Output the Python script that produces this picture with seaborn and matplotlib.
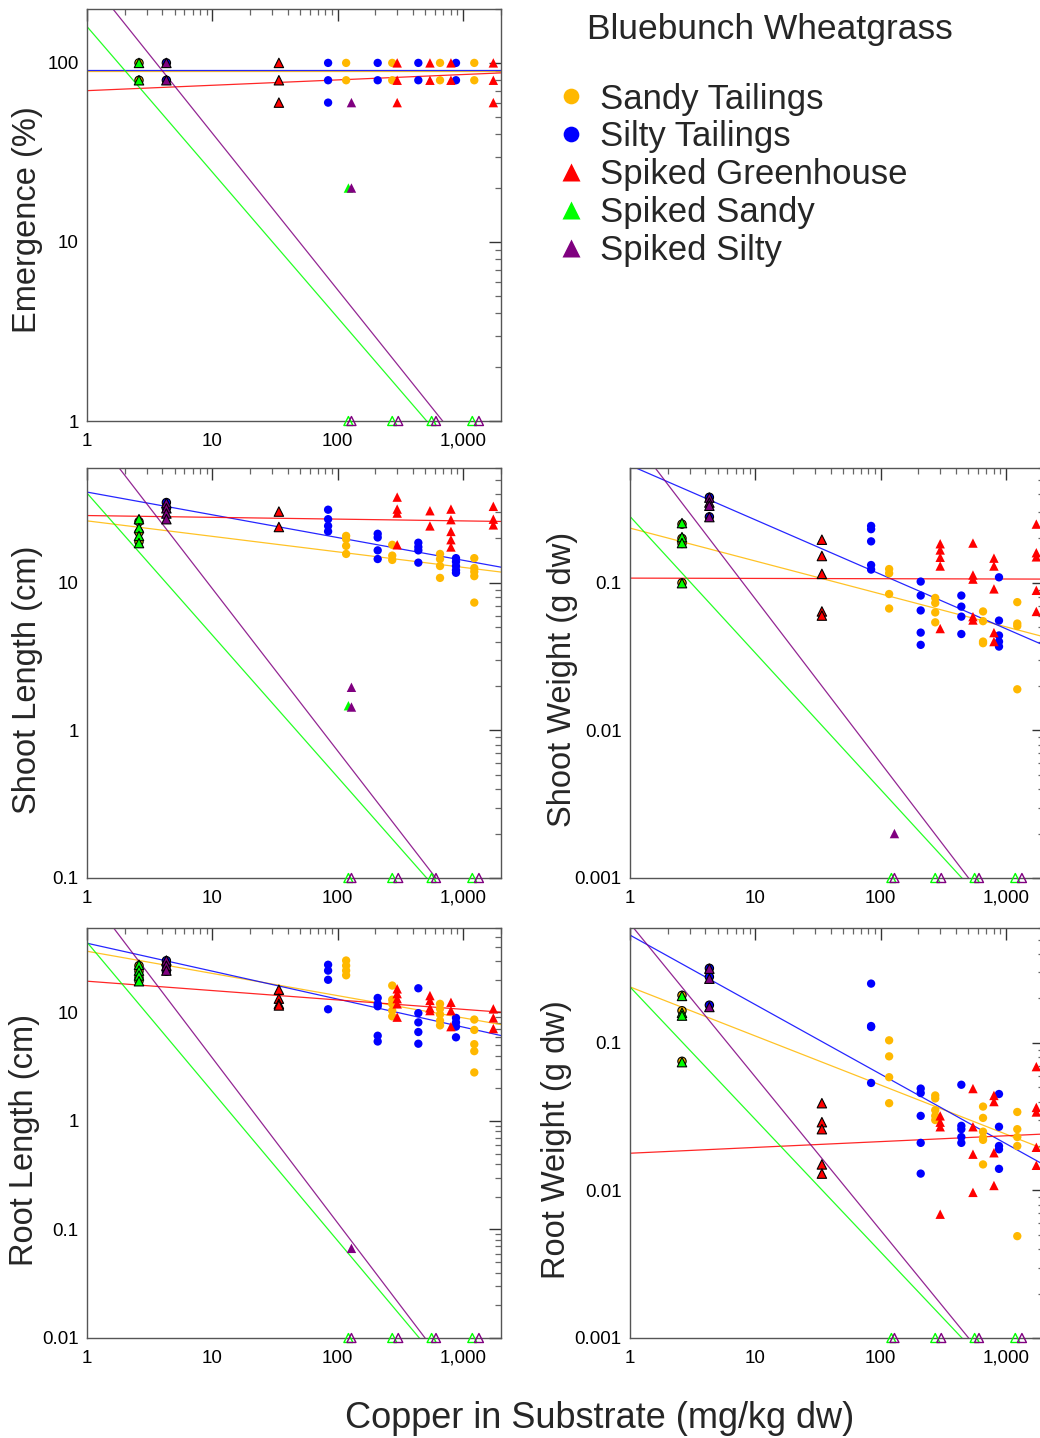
import numpy as np
import pandas as pd
import matplotlib
matplotlib.use("Agg")
import matplotlib.pyplot as plt
from matplotlib.lines import Line2D
from matplotlib.ticker import LogLocator, FixedLocator, FixedFormatter, NullFormatter
import seaborn as sns

sns.set_style("white")
plt.rcParams["font.family"] = ["Liberation Sans", "DejaVu Sans"]

# ---------------- data ----------------
SERIES = ["Sandy Tailings", "Silty Tailings", "Spiked Greenhouse", "Spiked Sandy", "Spiked Silty"]
COLORS = ["#FFB800", "#0000FF", "#FF0000", "#00FF00", "#800080"]
MARKERS = ["o", "o", "^", "^", "^"]
TITLE = "Bluebunch Wheatgrass"
XLABEL = "Copper in Substrate (mg/kg dw)"

# copper concentrations (mg/kg dw); first entry of each is the control
SANDY_X = [2.6, 117, 273, 657, 1233]
SILTY_X = [4.3, 84, 209, 441, 881]
GREENHOUSE_X = [34, 299, 546, 803, 1750]
SPIKED_SANDY_X = [2.6, 122, 273, 563, 1189]
SPIKED_SILTY_X = [4.3, 129, 305, 610, 1343]

# Emergence (%) -- replicate values per concentration (0 = none emerged)
EMERG_SANDY = [[100, 80], [100, 80], [100, 80], [100, 80], [100, 80]]
EMERG_SILTY = [[100, 80], [100, 80, 60], [100, 80], [100, 80], [100, 80]]
EMERG_GREENHOUSE = [[100, 80, 60], [100, 80, 60], [100, 80], [100, 80], [100, 80, 60]]
EMERG_SPIKED_SANDY = [[100, 80], [20, 0], [0], [0], [0]]
EMERG_SPIKED_SILTY = [[100, 80], [60, 20, 0], [0], [0], [0]]

# Shoot length (cm)
SLEN_SANDY = [[26, 22, 19], [20.8, 19.8, 17.8, 15.7], [18.1, 15.3, 14.3],
              [15.7, 14.5, 13.0, 10.8], [14.7, 12.6, 11.9, 11.1, 7.35]]
SLEN_SILTY = [[35, 32], [31.3, 27, 24.3, 22.3], [21.5, 20.3, 16.6, 14.5],
              [18.7, 17.5, 16.6, 13.7], [14.7, 13.9, 13.0, 12.2, 11.7]]
SLEN_GREENHOUSE = [[30.4, 23.9], [38.1, 31.6, 29.7, 18.1], [30.8, 24.3],
                   [31.6, 26.8, 22.3, 19.6, 17.5], [33, 27, 24.7]]
SLEN_SPIKED_SANDY = [[27, 23.5, 20.8, 18.6], [1.47, 0], [0], [0], [0]]
SLEN_SPIKED_SILTY = [[34.7, 32, 29.5, 27], [1.96, 1.44, 0], [0], [0], [0]]

# Shoot weight (g dw)
SWT_SANDY = [[0.25, 0.20, 0.185, 0.10], [0.124, 0.116, 0.084, 0.067], [0.079, 0.073, 0.063, 0.054],
             [0.064, 0.055, 0.040, 0.039], [0.074, 0.053, 0.051, 0.019]]
SWT_SILTY = [[0.38, 0.28], [0.243, 0.231, 0.191, 0.132, 0.123], [0.102, 0.082, 0.065, 0.046, 0.038],
             [0.082, 0.069, 0.059, 0.045], [0.109, 0.0555, 0.044, 0.040, 0.037]]
SWT_GREENHOUSE = [[0.196, 0.152, 0.115, 0.064, 0.060], [0.184, 0.167, 0.149, 0.130, 0.049],
                  [0.186, 0.113, 0.106, 0.059, 0.056], [0.147, 0.130, 0.091, 0.046, 0.040],
                  [0.25, 0.16, 0.15, 0.089, 0.064]]
SWT_SPIKED_SANDY = [[0.254, 0.204, 0.186, 0.0995], [0], [0], [0], [0]]
SWT_SPIKED_SILTY = [[0.378, 0.35, 0.333, 0.279], [0.002, 0], [0], [0], [0]]

# Root length (cm)
RLEN_SANDY = [[27, 24, 21, 19.5], [30.1, 27, 24.3, 22], [17.7, 13.1, 12.0, 10.4, 9.2],
              [12.0, 10.8, 9.6, 8.4, 7.6], [8.6, 6.9, 5.1, 4.4, 2.8]]
RLEN_SILTY = [[30, 27, 24], [27.5, 24.3, 20.0, 10.7], [13.6, 12.0, 11.4, 6.1, 5.4],
              [16.7, 9.85, 8.1, 6.6, 5.15], [8.9, 8.1, 7.4, 5.9]]
RLEN_GREENHOUSE = [[16.2, 13.4, 12.0, 11.6], [16.5, 14.9, 13.4, 12.0, 9.05], [14.3, 12.9, 11.0, 10.4],
                   [12.4, 10.4, 7.4], [10.8, 8.9, 7.1]]
RLEN_SPIKED_SANDY = [[27.5, 24.3, 21.9, 19.4], [0], [0], [0], [0]]
RLEN_SPIKED_SILTY = [[30.1, 27, 24.3], [0.067, 0], [0], [0], [0]]

# Root weight (g dw)
RWT_SANDY = [[0.21, 0.165, 0.075], [0.104, 0.081, 0.0585, 0.039], [0.044, 0.042, 0.035, 0.032, 0.030],
             [0.037, 0.031, 0.025, 0.0228, 0.022, 0.015], [0.034, 0.026, 0.023, 0.020, 0.0049]]
RWT_SILTY = [[0.32, 0.28, 0.18], [0.252, 0.130, 0.128, 0.0535], [0.049, 0.0457, 0.032, 0.021, 0.013],
             [0.052, 0.0274, 0.026, 0.023, 0.021], [0.045, 0.027, 0.020, 0.019, 0.014]]
RWT_GREENHOUSE = [[0.039, 0.029, 0.026, 0.015, 0.013], [0.032, 0.029, 0.027, 0.0069],
                  [0.049, 0.027, 0.0176, 0.0097], [0.044, 0.040, 0.018, 0.0108],
                  [0.069, 0.0365, 0.034, 0.0196, 0.0148]]
RWT_SPIKED_SANDY = [[0.208, 0.160, 0.153, 0.074], [0], [0], [0], [0]]
RWT_SPIKED_SILTY = [[0.318, 0.272, 0.175], [0], [0], [0], [0]]

# log-log regression lines: (log10 y at x=1, slope), in SERIES order
EMERG_FIT = [(1.954, 0.0), (1.961, 0.0), (1.845, 0.030), (2.203, -0.8126), (2.482, -0.8744)]
SLEN_FIT = [(1.420, -0.105), (1.615, -0.154), (1.456, -0.0121), (1.608, -0.962), (2.060, -1.099)]
SWT_FIT = [(-0.629, -0.223), (-0.204, -0.369), (-0.968, -0.002), (-0.550, -0.925), (0.002, -1.111)]
RLEN_FIT = [(1.564, -0.2045), (1.638, -0.2575), (1.288, -0.0864), (1.647, -1.375), (2.101, -1.520)]
RWT_FIT = [(-0.621, -0.3325), (-0.270, -0.471), (-1.748, 0.0394), (-0.621, -0.898), (-0.192, -1.039)]

EMERG_TICKS = [1, 10, 100]
EMERG_TICKLABELS = ["1", "10", "100"]
SLEN_TICKS = [0.1, 1, 10]
SLEN_TICKLABELS = ["0.1", "1", "10"]
WT_TICKS = [0.001, 0.01, 0.1]
WT_TICKLABELS = ["0.001", "0.01", "0.1"]
RLEN_TICKS = [0.01, 0.1, 1, 10]
RLEN_TICKLABELS = ["0.01", "0.1", "1", "10"]
X_TICKS = [1, 10, 100, 1000]
X_TICKLABELS = ["1", "10", "100", "1,000"]

X_ALL = [SANDY_X, SILTY_X, GREENHOUSE_X, SPIKED_SANDY_X, SPIKED_SILTY_X]

# ---------------- figure ----------------
W, H = 1040, 1438
fig = plt.figure(figsize=(W / 100, H / 100), dpi=100)

def fx(px):
    return px / W

def fy(py):
    return 1 - py / H

AXW = 413.6 / W
panels = [
    dict(name="Emergence (%)", ys=[EMERG_SANDY, EMERG_SILTY, EMERG_GREENHOUSE, EMERG_SPIKED_SANDY, EMERG_SPIKED_SILTY],
         fit=EMERG_FIT, ylim=(1, 200), ticks=EMERG_TICKS, labels=EMERG_TICKLABELS,
         rect=[fx(87), fy(421), AXW, 412 / H], lab=(28, 220)),
    dict(name="Shoot Length (cm)", ys=[SLEN_SANDY, SLEN_SILTY, SLEN_GREENHOUSE, SLEN_SPIKED_SANDY, SLEN_SPIKED_SILTY],
         fit=SLEN_FIT, ylim=(0.1, 60), ticks=SLEN_TICKS, labels=SLEN_TICKLABELS,
         rect=[fx(87), fy(878), AXW, 410 / H], lab=(28, 680)),
    dict(name="Shoot Weight (g dw)", ys=[SWT_SANDY, SWT_SILTY, SWT_GREENHOUSE, SWT_SPIKED_SANDY, SWT_SPIKED_SILTY],
         fit=SWT_FIT, ylim=(0.001, 0.6), ticks=WT_TICKS, labels=WT_TICKLABELS,
         rect=[fx(630), fy(878), AXW, 410 / H], lab=(562, 679)),
    dict(name="Root Length (cm)", ys=[RLEN_SANDY, RLEN_SILTY, RLEN_GREENHOUSE, RLEN_SPIKED_SANDY, RLEN_SPIKED_SILTY],
         fit=RLEN_FIT, ylim=(0.01, 60), ticks=RLEN_TICKS, labels=RLEN_TICKLABELS,
         rect=[fx(87), fy(1338), AXW, 410 / H], lab=(25, 1140)),
    dict(name="Root Weight (g dw)", ys=[RWT_SANDY, RWT_SILTY, RWT_GREENHOUSE, RWT_SPIKED_SANDY, RWT_SPIKED_SILTY],
         fit=RWT_FIT, ylim=(0.001, 0.6), ticks=WT_TICKS, labels=WT_TICKLABELS,
         rect=[fx(630), fy(1338), AXW, 410 / H], lab=(557, 1140)),
]

palette = dict(zip(SERIES, COLORS))
markers = dict(zip(SERIES, MARKERS))
sizes = {s: (36 if m == "o" else 46) for s, m in zip(SERIES, MARKERS)}

for p in panels:
    rows = []
    for si, (xs, yss) in enumerate(zip(X_ALL, p["ys"])):
        for ci, (x, vals) in enumerate(zip(xs, yss)):
            for v in vals:
                rows.append(dict(series=SERIES[si], x=x, y=v, control=(ci == 0)))
    df = pd.DataFrame(rows)

    ax = fig.add_axes(p["rect"])
    ax.set_xscale("log")
    ax.set_yscale("log")
    ax.set_xlim(1, 2000)
    ax.set_ylim(*p["ylim"])

    # regression lines
    for si, (a, b) in enumerate(p["fit"]):
        xl = np.array([0.5, 4000.0])
        yl = 10 ** (a + b * np.log10(xl))
        sns.lineplot(x=xl, y=yl, color=COLORS[si], lw=0.9, alpha=0.85, ax=ax, zorder=2, sort=False)

    pos = df[df["y"] > 0]
    treat = pos[~pos["control"]]
    ctrl = pos[pos["control"]]
    sns.scatterplot(data=treat, x="x", y="y", hue="series", style="series", size="series",
                    hue_order=SERIES, style_order=SERIES, size_order=SERIES,
                    palette=palette, markers=markers, sizes=sizes,
                    edgecolor="none", legend=False, ax=ax, zorder=3)
    sns.scatterplot(data=ctrl, x="x", y="y", hue="series", style="series", size="series",
                    hue_order=SERIES, style_order=SERIES, size_order=SERIES,
                    palette=palette, markers=markers, sizes=sizes,
                    edgecolor="black", linewidth=0.8, legend=False, ax=ax, zorder=4)

    # zero values: open triangles on the lower axis
    zeros = df[df["y"] <= 0]
    for si, s in enumerate(SERIES):
        z = zeros[zeros["series"] == s]
        if len(z):
            ax.scatter(z["x"], np.full(len(z), p["ylim"][0]), marker="^", s=42,
                       facecolors="none", edgecolors=COLORS[si], linewidths=1.0,
                       clip_on=False, zorder=5)

    ax.set_xlabel("")
    ax.set_ylabel("")
    ax.xaxis.set_major_locator(FixedLocator(X_TICKS))
    ax.xaxis.set_major_formatter(FixedFormatter(X_TICKLABELS))
    ax.xaxis.set_minor_locator(LogLocator(base=10, subs=np.arange(2, 10), numticks=20))
    ax.xaxis.set_minor_formatter(NullFormatter())
    ax.yaxis.set_major_locator(FixedLocator(p["ticks"]))
    ax.yaxis.set_major_formatter(FixedFormatter(p["labels"]))
    ax.yaxis.set_minor_locator(LogLocator(base=10, subs=np.arange(2, 10), numticks=20))
    ax.yaxis.set_minor_formatter(NullFormatter())
    ax.tick_params(which="both", direction="in", top=True, right=True, colors="#333333",
                   labelcolor="black", labelsize=13.5)
    ax.tick_params(which="major", length=8.5, width=1.0, pad=6)
    ax.tick_params(axis="x", which="major", pad=8.5)
    ax.tick_params(which="minor", length=4.5, width=0.9, color="#666666")
    for sp in ax.spines.values():
        sp.set_color("#555555")
        sp.set_linewidth(1.0)
    ax.grid(False)

    fig.text(fx(p["lab"][0]), fy(p["lab"][1]), p["name"], rotation=90,
             ha="center", va="center", fontsize=23.5)

fig.text(fx(600), fy(1418), XLABEL, ha="center", va="center", fontsize=26)
fig.text(fx(770), fy(30), TITLE, ha="center", va="center", fontsize=25.5)

handles = [Line2D([], [], ls="none", marker=m, color=c, markeredgecolor="none",
                  markersize=(11.3 if m == "o" else 12.5))
           for m, c in zip(MARKERS, COLORS)]
fig.legend(handles, SERIES, loc="upper left", bbox_to_anchor=(fx(557), fy(82.5)),
           frameon=False, fontsize=25, handlelength=0.8, handletextpad=0.43,
           labelspacing=0.14, borderpad=0, borderaxespad=0)

fig.savefig("out.png", dpi=100)
